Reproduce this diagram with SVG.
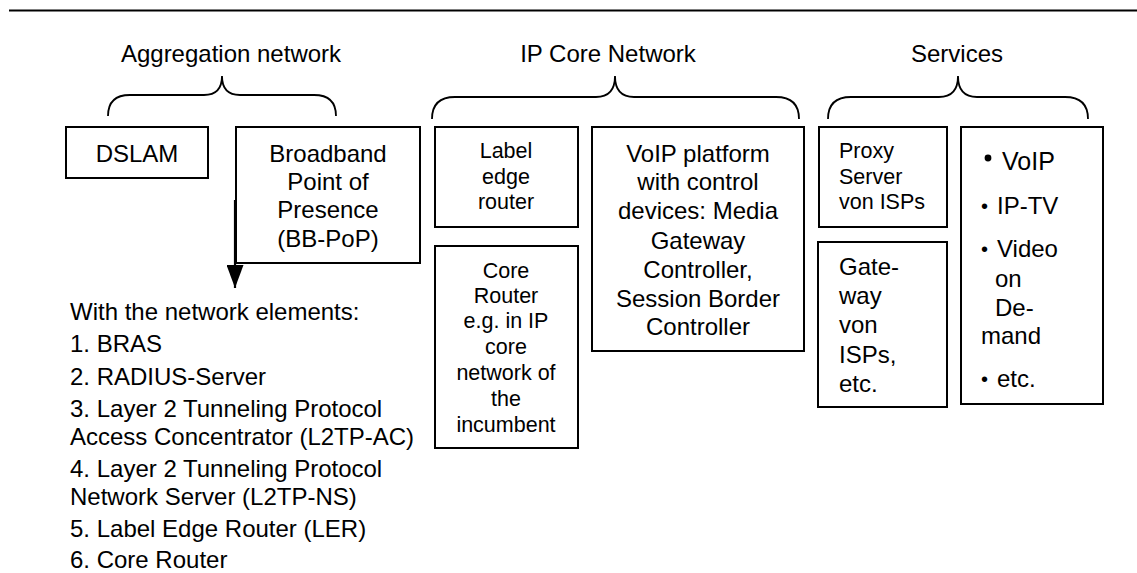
<svg xmlns="http://www.w3.org/2000/svg" width="1137" height="573" viewBox="0 0 1137 573">
<defs>
<style>
text{font-family:"Liberation Sans",Arial,sans-serif;fill:#000}
.t20{font-size:24px}
.t18{font-size:21.5px}
.tl{font-size:24px}
.c{text-anchor:middle}
.box{fill:#fff;stroke:#000;stroke-width:2}
.brace{fill:none;stroke:#000;stroke-width:1.8}
</style>
<marker id="ah" markerWidth="23" markerHeight="17" refX="23" refY="8.5" orient="auto" markerUnits="userSpaceOnUse" viewBox="0 0 23 17">
<path d="M0,0 L23,8.5 L0,17 Z" fill="#000"/>
</marker>
</defs>
<rect width="1137" height="573" fill="#fff"/>
<line x1="9" y1="10.5" x2="1137" y2="10.5" stroke="#000" stroke-width="2"/>

<g id="aggregation">
<text class="t20 c" x="231" y="62">Aggregation network</text>
<path class="brace" d="M108,116 Q108,95 130,95 L204,95 Q222,95 222,76 Q222,95 240,95 L314,95 Q336,95 336,116"/>
</g>
<g id="ipcore">
<text class="t20 c" x="608" y="62">IP Core Network</text>
<path class="brace" d="M432,119 Q432,97 455,97 L596,97 Q615,97 615,76 Q615,97 634,97 L776,97 Q799,97 799,119"/>
</g>
<g id="services">
<text class="t20 c" x="957" y="62">Services</text>
<path class="brace" d="M828,119 Q828,97 851,97 L939,97 Q958,97 958,76 Q958,97 977,97 L1065,97 Q1088,97 1088,119"/>
</g>

<g id="dslam">
<rect class="box" x="66" y="127" width="142" height="51"/>
<text class="t20 c" x="137" y="162">DSLAM</text>
</g>
<g id="bbpop">
<rect class="box" x="236" y="127" width="184" height="136"/>
<text class="t20 c" x="328" y="162">Broadband</text>
<text class="t20 c" x="328" y="190">Point of</text>
<text class="t20 c" x="328" y="218">Presence</text>
<text class="t20 c" x="328" y="247">(BB-PoP)</text>
</g>
<g id="ler">
<rect class="box" x="435" y="127" width="143" height="100"/>
<text class="t18 c" x="506" y="158">Label</text>
<text class="t18 c" x="506" y="184">edge</text>
<text class="t18 c" x="506" y="209">router</text>
</g>
<g id="corerouter">
<rect class="box" x="435" y="246" width="143" height="202"/>
<text class="t18 c" x="506" y="278">Core</text>
<text class="t18 c" x="506" y="303">Router</text>
<text class="t18 c" x="506" y="328">e.g. in IP</text>
<text class="t18 c" x="506" y="354">core</text>
<text class="t18 c" x="506" y="380">network of</text>
<text class="t18 c" x="506" y="406">the</text>
<text class="t18 c" x="506" y="432">incumbent</text>
</g>
<g id="voip">
<rect class="box" x="592" y="127" width="212" height="224"/>
<text class="t20 c" x="698" y="162">VoIP platform</text>
<text class="t20 c" x="698" y="190">with control</text>
<text class="t20 c" x="698" y="219">devices: Media</text>
<text class="t20 c" x="698" y="249">Gateway</text>
<text class="t20 c" x="698" y="278">Controller,</text>
<text class="t20 c" x="698" y="307">Session Border</text>
<text class="t20 c" x="698" y="335">Controller</text>
</g>
<g id="proxy">
<rect class="box" x="819" y="127" width="128" height="100"/>
<text class="t18" x="839" y="158">Proxy</text>
<text class="t18" x="839" y="184">Server</text>
<text class="t18" x="839" y="209">von ISPs</text>
</g>
<g id="gateway">
<rect class="box" x="818" y="242" width="129" height="165"/>
<text class="t20" x="839" y="275">Gate-</text>
<text class="t20" x="839" y="304">way</text>
<text class="t20" x="839" y="333">von</text>
<text class="t20" x="839" y="363">ISPs,</text>
<text class="t20" x="839" y="392">etc.</text>
</g>
<g id="servicelist">
<rect class="box" x="961" y="127" width="142" height="277"/>
<circle cx="988" cy="158" r="3.4" fill="#000"/>
<text style="font-size:25px" x="1002" y="170">VoIP</text>
<text style="font-size:20px" x="981" y="213">•</text>
<text class="tl" x="997" y="214">IP-TV</text>
<text style="font-size:20px" x="981" y="256">•</text>
<text class="tl" x="997" y="257">Video</text>
<text class="tl" x="995" y="287">on</text>
<text class="tl" x="995" y="316">De-</text>
<text class="tl" x="981" y="344">mand</text>
<text style="font-size:20px" x="981" y="386">•</text>
<text class="tl" x="997" y="387">etc.</text>
</g>

<g id="connectors">
<line x1="235" y1="200" x2="235" y2="288" stroke="#000" stroke-width="2.2" marker-end="url(#ah)"/>
</g>

<g id="elements">
<text class="t20" x="70" y="320">With the network elements:</text>
<text class="t20" x="70" y="352">1. BRAS</text>
<text class="t20" x="70" y="385">2. RADIUS-Server</text>
<text class="t20" x="70" y="417">3. Layer 2 Tunneling Protocol</text>
<text class="t20" x="70" y="445">Access Concentrator (L2TP-AC)</text>
<text class="t20" x="70" y="477">4. Layer 2 Tunneling Protocol</text>
<text class="t20" x="70" y="505">Network Server (L2TP-NS)</text>
<text class="t20" x="70" y="537">5. Label Edge Router (LER)</text>
<text class="t20" x="70" y="568">6. Core Router</text>
</g>
</svg>
